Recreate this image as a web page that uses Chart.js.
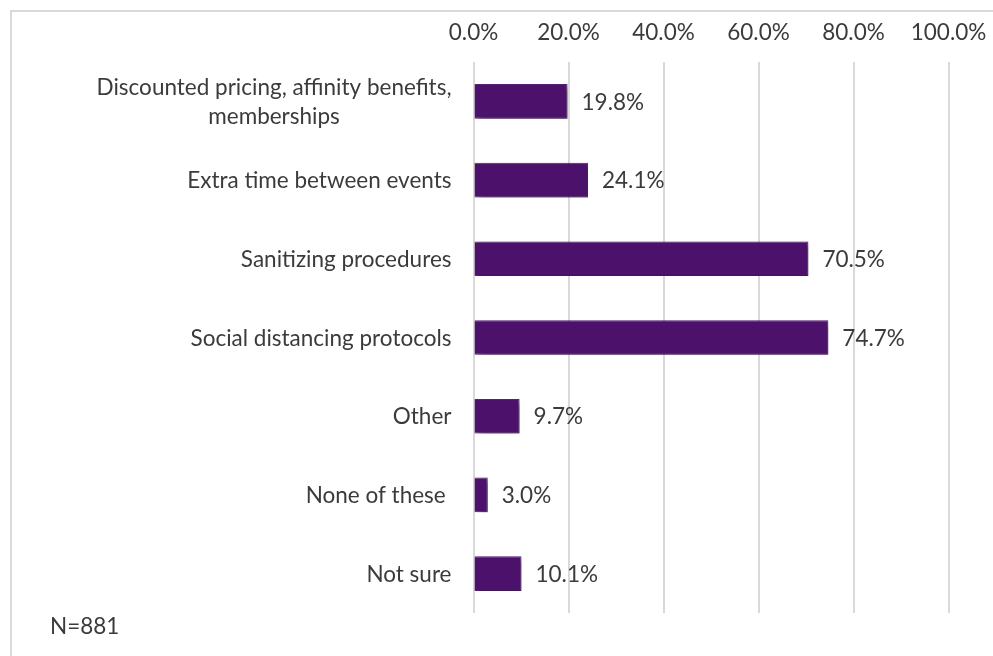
<!DOCTYPE html>
<html>
<head>
<meta charset="utf-8">
<title>Preferred measures</title>
<script src="https://cdn.jsdelivr.net/npm/chart.js@4.4.1/dist/chart.umd.min.js"></script>
<style>
    body { margin: 0; background: #fff; }
    #wrap { position: relative; width: 993px; height: 656px; overflow: hidden; }
    #frame {
        position: absolute; left: 10px; top: 10px; width: 1100px; height: 800px;
        border-top: 2px solid #d9d9d9; border-left: 2px solid #d9d9d9;
    }
    #chart { position: absolute; left: 0; top: 0; }
    #note { position: absolute; left: 50px; top: 612px; font: 22.5px Lato, sans-serif; color: #3b3b3b; }
</style>
</head>
<body>
<div id="wrap">
    <div id="frame"></div>
    <canvas id="chart" width="993" height="656"></canvas>
    <div id="note">N=881</div>
</div>
<script>
/* ---------------------------
   DATA
---------------------------*/
const categories = [
    ['Discounted pricing, affinity benefits,', 'memberships'],
    ['Extra time between events'],
    ['Sanitizing procedures'],
    ['Social distancing protocols'],
    ['Other'],
    ['None of these '],
    ['Not sure'],
];
const shares = [19.8, 24.1, 70.5, 74.7, 9.7, 3.0, 10.1];
const axisTicks = [0, 20, 40, 60, 80, 100];

const FONT = 'Lato, sans-serif';
const FONT_SIZE = 22.5;
const TEXT = '#3b3b3b';
const BAR = '#4b116b';

/* ---------------------------
   PLUGINS
---------------------------*/
// soft drop shadow under the bars
const barShadow = {
    id: 'barShadow',
    beforeDatasetDraw(chart) {
        const ctx = chart.ctx;
        ctx.save();
        ctx.shadowColor = 'rgba(0, 0, 0, 0.45)';
        ctx.shadowBlur = 6;
        ctx.shadowOffsetX = 3;
        ctx.shadowOffsetY = 3;
    },
    afterDatasetDraw(chart) {
        chart.ctx.restore();
    }
};

// value labels at the end of each bar
const valueLabels = {
    id: 'valueLabels',
    afterDatasetsDraw(chart) {
        const ctx = chart.ctx;
        const meta = chart.getDatasetMeta(0);
        ctx.save();
        ctx.font = FONT_SIZE + 'px ' + FONT;
        ctx.fillStyle = TEXT;
        ctx.textAlign = 'left';
        ctx.textBaseline = 'middle';
        meta.data.forEach((bar, i) => {
            ctx.fillText(shares[i].toFixed(1) + '%', bar.x + 14, bar.y + 1);
        });
        ctx.restore();
    }
};

// category names, right aligned as a block, lines centred within it
const categoryLabels = {
    id: 'categoryLabels',
    afterDraw(chart) {
        const ctx = chart.ctx;
        const y = chart.scales.y;
        const right = chart.chartArea.left - 22;
        const lineH = 29;
        ctx.save();
        ctx.font = FONT_SIZE + 'px ' + FONT;
        ctx.fillStyle = TEXT;
        ctx.textAlign = 'center';
        ctx.textBaseline = 'middle';
        categories.forEach((lines, i) => {
            const w = Math.max(...lines.map(l => ctx.measureText(l).width));
            const cx = right - w / 2;
            const cy = y.getPixelForValue(i);
            const top = cy - (lines.length - 1) * lineH / 2;
            lines.forEach((l, k) => {
                ctx.fillText(l, cx, top + k * lineH + 1);
            });
        });
        ctx.restore();
    }
};

/* ---------------------------
   CHART
---------------------------*/
const ctx = document.getElementById('chart');

new Chart(ctx, {
    type: 'bar',
    data: {
        labels: categories,
        datasets: [{
            data: shares,
            backgroundColor: BAR,
            borderColor: '#5c2480',
            borderWidth: 1,
            barPercentage: 0.44,
            categoryPercentage: 1,
        }]
    },
    options: {
        indexAxis: 'y',
        responsive: false,
        animation: false,
        layout: { padding: { top: 0, right: 44.5, bottom: 43, left: 0 } },
        plugins: {
            legend: { display: false },
            tooltip: { enabled: false }
        },
        scales: {
            x: {
                position: 'top',
                min: axisTicks[0],
                max: axisTicks[axisTicks.length - 1],
                afterBuildTicks: scale => {
                    scale.ticks = axisTicks.map(v => ({ value: v }));
                },
                afterFit: scale => {
                    scale.height = 62;
                    scale.paddingLeft = 0;
                    scale.paddingRight = 0;
                },
                grid: { color: '#d9d9d9', lineWidth: 2, drawTicks: false },
                border: { display: false },
                ticks: {
                    padding: 16,
                    color: TEXT,
                    font: { family: FONT, size: FONT_SIZE },
                    callback: v => v.toFixed(1) + '%'
                }
            },
            y: {
                afterFit: scale => { scale.width = 473.5; },
                grid: { display: false },
                border: { display: false },
                ticks: { display: false }
            }
        }
    },
    plugins: [barShadow, valueLabels, categoryLabels]
});
</script>
</body>
</html>
